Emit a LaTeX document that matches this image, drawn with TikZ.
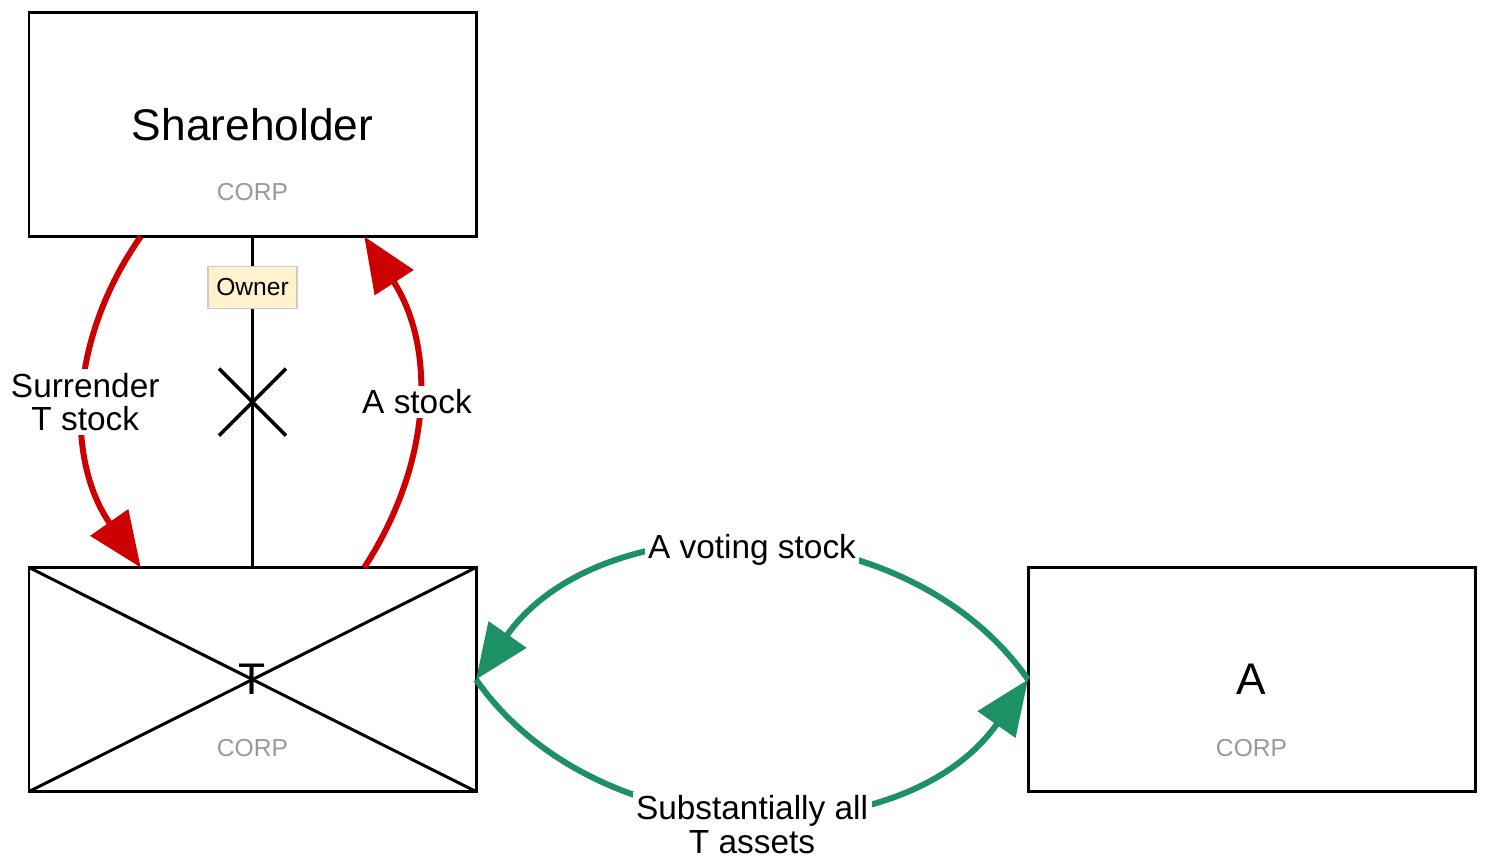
\documentclass[tikz,border=0pt]{standalone}
\usepackage{fontspec}
\setmainfont{Liberation Sans}
\usetikzlibrary{arrows.meta}
\usetikzlibrary{positioning,calc}

\definecolor{flowred}{RGB}{204,0,0}
\definecolor{flowgreen}{RGB}{29,145,101}
\definecolor{ownerfill}{RGB}{255,242,204}

\tikzset{
  entity/.style={draw=black, line width=0.85pt, minimum width=4.47cm, minimum height=2.24cm, inner sep=0pt, outer sep=0pt},
  bigname/.style={font=\fontsize{12.6}{15}\selectfont},
  corptag/.style={text=black!40, font=\fontsize{7}{8}\selectfont},
  flowlbl/.style={fill=white, inner sep=1pt, align=center, font=\fontsize{9.5}{9.6}\selectfont},
  redflow/.style={draw=flowred, line width=1.7pt, -{Triangle[length=5.5mm,width=4.5mm]}},
  greenflow/.style={draw=flowgreen, line width=1.7pt, -{Triangle[length=5.5mm,width=4.5mm]}},
  ownertag/.style={fill=ownerfill, draw=black!20, line width=0.4pt, minimum width=0.89cm, minimum height=0.42cm, inner sep=1pt, font=\fontsize{7}{8}\selectfont}
}

\begin{document}
\begin{tikzpicture}
  \useasboundingbox (0,0) rectangle (14.85,-8.59);

  % boxes
  \node[entity] (share) at (2.525,-1.245) {};
  \node[entity, below=3.31cm of share] (tbox) {};
  \node[entity, right=5.52cm of tbox] (abox) {};

  \node[bigname] at (share.center) {Shareholder};
  \node[corptag] at ([yshift=-0.68cm]share.center) {CORP};
  \node[bigname] at (tbox.center) {T};
  \node[corptag] at ([yshift=-0.68cm]tbox.center) {CORP};
  \node[bigname] at (abox.center) {A};
  \node[corptag] at ([yshift=-0.68cm]abox.center) {CORP};

  % T is gone
  \draw[line width=0.85pt] (tbox.north west) -- (tbox.south east);
  \draw[line width=0.85pt] (tbox.south west) -- (tbox.north east);

  % ownership, cut
  \draw[line width=0.85pt] (share.south) -- (tbox.north);
  \node[ownertag, below=0.29cm of share] (owner) {Owner};
  \coordinate (cut) at ($(share.south)!0.5!(tbox.north)$);
  \draw[line width=1pt] ($(cut)+(-0.335,0.335)$) -- ($(cut)+(0.335,-0.335)$);
  \draw[line width=1pt] ($(cut)+(-0.335,-0.335)$) -- ($(cut)+(0.335,0.335)$);

  \coordinate (sl) at ($(share.south west)!0.25!(share.south east)$);
  \coordinate (sr) at ($(share.south west)!0.75!(share.south east)$);
  \coordinate (tl) at ($(tbox.north west)!0.25!(tbox.north east)$);
  \coordinate (tr) at ($(tbox.north west)!0.75!(tbox.north east)$);

  % stock swap
  \draw[redflow] (sl) to[out=-125,in=125] node[flowlbl] {Surrender\\T stock} (tl);
  \draw[redflow] (tr) to[out=57,in=-57] node[flowlbl] {A stock} (sr);

  % reorganization
  \draw[greenflow] (abox.west) to[out=125,in=55] node[flowlbl, yshift=-0.3mm] {A voting stock} (tbox.east);
  \draw[greenflow] (tbox.east) to[out=-55,in=-125] node[flowlbl, yshift=-1.3mm] {Substantially all\\T assets} (abox.west);
\end{tikzpicture}
\end{document}
